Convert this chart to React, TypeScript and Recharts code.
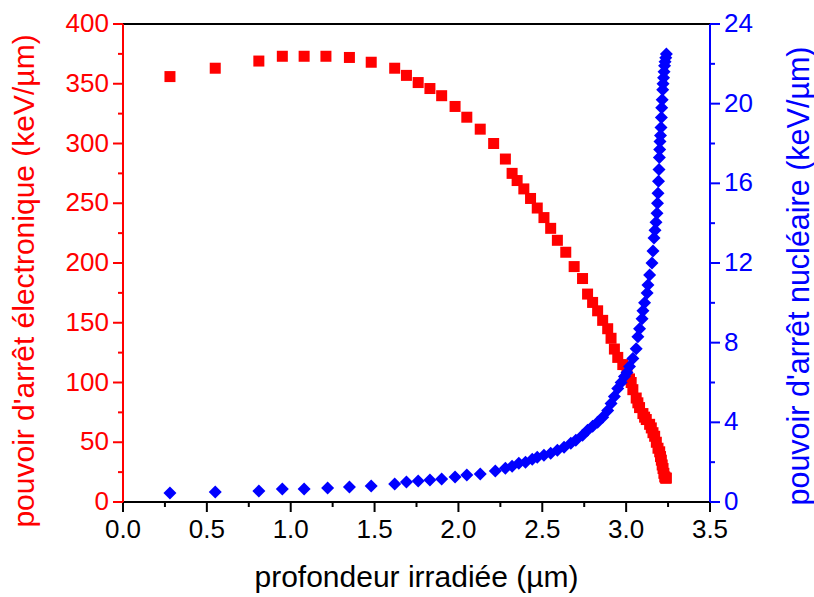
import React from 'react'
import { ScatterChart, Scatter, XAxis, YAxis, ReferenceLine, Label } from 'recharts'

// profondeur (µm) et pouvoir d'arrêt électronique (keV/µm)
const depthElec = [
  0.28, 0.55, 0.81, 0.95, 1.08, 1.21, 1.35, 1.48, 1.62, 1.69,
  1.76, 1.83, 1.9, 1.98, 2.05, 2.13, 2.21, 2.28, 2.32, 2.35,
  2.39, 2.43, 2.47, 2.51, 2.55, 2.59, 2.64, 2.69, 2.74, 2.77,
  2.8, 2.83, 2.86, 2.89, 2.91, 2.93, 2.95, 2.98, 3.005, 3.02,
  3.03, 3.04, 3.06, 3.07, 3.08, 3.1, 3.11, 3.12, 3.14, 3.15,
  3.16, 3.17, 3.18, 3.19, 3.2, 3.205, 3.21, 3.215, 3.22, 3.225,
  3.23, 3.235, 3.24,
]
const stopElec = [
  356, 363, 369, 373, 373, 373, 372, 368, 363, 357,
  351, 346, 340, 331, 322, 312, 300, 287, 275, 269,
  262, 254, 246, 238, 229, 219, 209, 197, 187, 174,
  167, 160, 152, 145, 137, 128, 121, 115, 108, 103,
  100, 94, 87, 83, 79, 74, 71, 69, 65, 62,
  58, 55, 50, 45, 42, 38, 35, 31, 28, 24,
  21, 20, 20,
]

// profondeur (µm) et pouvoir d'arrêt nucléaire (keV/µm)
const depthNucl = [
  0.28, 0.55, 0.81, 0.95, 1.08, 1.22, 1.35, 1.48, 1.62, 1.69,
  1.76, 1.83, 1.9, 1.98, 2.05, 2.13, 2.22, 2.28, 2.32, 2.36,
  2.4, 2.44, 2.47, 2.51, 2.55, 2.59, 2.63, 2.67, 2.7, 2.74,
  2.77, 2.8, 2.83, 2.86, 2.89, 2.91, 2.93, 2.95, 2.97, 2.99,
  3.005, 3.02, 3.04, 3.06, 3.07, 3.08, 3.095, 3.1, 3.11, 3.125,
  3.13, 3.14, 3.154, 3.16, 3.166, 3.172, 3.178, 3.184, 3.187, 3.19,
  3.193, 3.196, 3.198, 3.2, 3.202, 3.205, 3.208, 3.21, 3.212, 3.215,
  3.218, 3.22, 3.223, 3.226, 3.229, 3.232, 3.236, 3.24,
]
const stopNucl = [
  0.45, 0.5, 0.55, 0.65, 0.65, 0.7, 0.75, 0.8, 0.9, 1.0,
  1.05, 1.1, 1.15, 1.25, 1.35, 1.4, 1.56, 1.7, 1.8, 1.95,
  2.0, 2.15, 2.25, 2.35, 2.45, 2.6, 2.75, 2.95, 3.1, 3.35,
  3.6, 3.8, 4.0, 4.25, 4.6, 4.95, 5.3, 5.7, 6.0, 6.3,
  6.5, 6.8, 7.2, 7.7, 8.3, 8.7, 9.2, 9.6, 10.0, 10.5,
  10.9, 11.4, 12.0, 12.6, 13.25, 13.65, 14.05, 14.5, 15.0, 15.5,
  16.1, 16.7, 17.3, 17.7, 18.1, 18.4, 18.8, 19.3, 19.8, 20.2,
  20.7, 21.0, 21.3, 21.6, 21.9, 22.1, 22.3, 22.5,
]

const xTicks = [0, 0.25, 0.5, 0.75, 1, 1.25, 1.5, 1.75, 2, 2.25, 2.5, 2.75, 3, 3.25, 3.5]
const leftTicks = [0, 25, 50, 75, 100, 125, 150, 175, 200, 225, 250, 275, 300, 325, 350, 375, 400]
const rightTicks = [0, 2, 4, 6, 8, 10, 12, 14, 16, 18, 20, 22, 24]

const RED = '#ff0000'
const BLUE = '#0000ff'
const FONT = '"Liberation Sans", Arial, sans-serif'

const elecData = depthElec.map((d, i) => ({ depth: d, value: stopElec[i] }))
const nuclData = depthNucl.map((d, i) => ({ depth: d, value: stopNucl[i] }))

const Square = ({ cx, cy }: any) => <rect x={cx - 5.5} y={cy - 5.5} width={11} height={11} fill={RED} />
const Diamond = ({ cx, cy }: any) => (
  <polygon points={`${cx},${cy - 6.5} ${cx + 6.5},${cy} ${cx},${cy + 6.5} ${cx - 6.5},${cy}`} fill={BLUE} />
)

const XTick = ({ x, y, payload }: any) => {
  const major = Number.isInteger(payload.value * 2)
  return (
    <g>
      <line x1={x} x2={x} y1={y} y2={y + (major ? 10 : 5)} stroke="#000" strokeWidth={2} />
      {major && (
        <text x={x} y={y + 36} textAnchor="middle" fontSize={26} fill="#000" fontFamily={FONT}>
          {payload.value.toFixed(1)}
        </text>
      )}
    </g>
  )
}

const LeftTick = ({ x, y, payload }: any) => {
  const major = payload.value % 50 === 0
  return (
    <g>
      <line x1={x} x2={x - (major ? 10 : 5)} y1={y} y2={y} stroke={RED} strokeWidth={2} />
      {major && (
        <text x={x - 14} y={y + 8} textAnchor="end" fontSize={26} fill={RED} fontFamily={FONT}>
          {payload.value}
        </text>
      )}
    </g>
  )
}

const RightTick = ({ x, y, payload }: any) => {
  const major = payload.value % 4 === 0
  return (
    <g>
      <line x1={x} x2={x + (major ? 10 : 5)} y1={y} y2={y} stroke={BLUE} strokeWidth={2} />
      {major && (
        <text x={x + 14} y={y + 8} textAnchor="start" fontSize={26} fill={BLUE} fontFamily={FONT}>
          {payload.value}
        </text>
      )}
    </g>
  )
}

const App: React.FC = () => {
  return (
    <div style={{ position: 'absolute', left: 0, top: 0, background: '#fff' }}>
      <ScatterChart width={814} height={597} margin={{ top: 24, right: 0, bottom: 0, left: 0 }} style={{ fontFamily: FONT }}>
        <XAxis
          dataKey="depth"
          type="number"
          domain={[0, 3.5]}
          ticks={xTicks}
          interval={0}
          height={95}
          tickSize={0}
          tickMargin={0}
          tickLine={false}
          tick={<XTick />}
          axisLine={{ stroke: '#000', strokeWidth: 2 }}
        >
          <Label
            content={({ viewBox }: any) => (
              <text x={viewBox.x + viewBox.width / 2} y={viewBox.y + 85} textAnchor="middle" fontSize={30} fill="#000" fontFamily={FONT}>
                profondeur irradiée (µm)
              </text>
            )}
          />
        </XAxis>
        <YAxis
          yAxisId="left"
          dataKey="value"
          type="number"
          domain={[0, 400]}
          ticks={leftTicks}
          interval={0}
          width={123}
          tickSize={0}
          tickMargin={0}
          tickLine={false}
          tick={<LeftTick />}
          axisLine={{ stroke: RED, strokeWidth: 2 }}
        >
          <Label
            content={({ viewBox }: any) => {
              const cx = 23
              const cy = viewBox.y + viewBox.height / 2 + 18
              return (
                <text x={cx} y={cy} transform={`rotate(-90 ${cx} ${cy})`} textAnchor="middle" dominantBaseline="central" fontSize={30} fill={RED} fontFamily={FONT}>
                  pouvoir d'arrêt électronique (keV/µm)
                </text>
              )
            }}
          />
        </YAxis>
        <YAxis
          yAxisId="right"
          orientation="right"
          dataKey="value"
          type="number"
          domain={[0, 24]}
          ticks={rightTicks}
          interval={0}
          width={104}
          tickSize={0}
          tickMargin={0}
          tickLine={false}
          tick={<RightTick />}
          axisLine={{ stroke: BLUE, strokeWidth: 2 }}
        >
          <Label
            content={({ viewBox }: any) => {
              const cx = 798
              const cy = viewBox.y + viewBox.height / 2 + 13
              return (
                <text x={cx} y={cy} transform={`rotate(-90 ${cx} ${cy})`} textAnchor="middle" dominantBaseline="central" fontSize={30.5} fill={BLUE} fontFamily={FONT}>
                  pouvoir d'arrêt nucléaire (keV/µm)
                </text>
              )
            }}
          />
        </YAxis>
        <ReferenceLine yAxisId="left" y={400} stroke="#000" strokeWidth={2} />
        <Scatter yAxisId="left" data={elecData} shape={<Square />} isAnimationActive={false} />
        <Scatter yAxisId="right" data={nuclData} shape={<Diamond />} isAnimationActive={false} />
      </ScatterChart>
    </div>
  )
}

export default App
